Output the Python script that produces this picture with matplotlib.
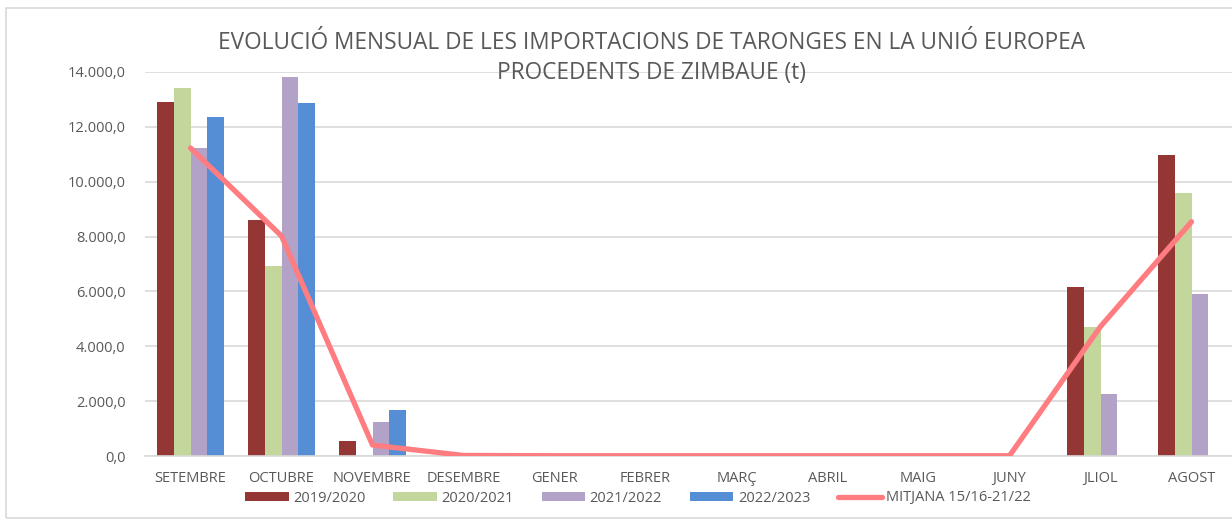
import matplotlib.pyplot as plt
import numpy as np
from matplotlib.patches import Rectangle
from matplotlib.ticker import FuncFormatter

# Dades (tones)
mesos = ['SETEMBRE', 'OCTUBRE', 'NOVEMBRE', 'DESEMBRE', 'GENER', 'FEBRER',
         'MARÇ', 'ABRIL', 'MAIG', 'JUNY', 'JLIOL', 'AGOST']
c2019 = [12900, 8600, 550, 0, 0, 0, 0, 0, 0, 0, 6170, 10960]
c2020 = [13400, 6920, 0, 0, 0, 0, 0, 0, 0, 0, 4720, 9580]
c2021 = [11220, 13800, 1250, 0, 0, 0, 0, 0, 0, 0, 2260, 5900]
c2022 = [12350, 12880, 1680, 0, 0, 0, 0, 0, 0, 0, 0, 0]
mitjana = [11230, 8020, 400, 20, 10, 10, 10, 10, 10, 10, 4720, 8540]

series = [('2019/2020', c2019, '#943634'),
          ('2020/2021', c2020, '#C3D69B'),
          ('2021/2022', c2021, '#B2A2C7'),
          ('2022/2023', c2022, '#558ED5')]

plt.rcParams['font.family'] = ['Open Sans', 'DejaVu Sans']
gris = '#595959'

fig = plt.figure(figsize=(12.32, 5.21), dpi=100)
ax = fig.add_axes([145/1232, 65/521, 1092/1232, 384/521])

# Marc del gràfic
fig.patches.append(Rectangle((6/1232, 3/521), 1.1, 1 - 11/521, transform=fig.transFigure,
                             fill=False, edgecolor='#D9D9D9', linewidth=1.2))

x = np.arange(len(mesos))
w = 0.183
handles = []
for i, (nom, vals, col) in enumerate(series):
    handles.append(ax.bar(x + (i - 1.5) * w, vals, width=w, color=col, label=nom, zorder=2))

linia, = ax.plot(x, mitjana, color='#FF7C80', linewidth=3.8, label='MITJANA 15/16-21/22',
                 zorder=3, solid_capstyle='round')
handles.append(linia)

ax.set_xlim(-0.5, 11.5)
ax.set_ylim(0, 14000)
ax.set_yticks(np.arange(0, 14001, 2000))
ax.yaxis.set_major_formatter(FuncFormatter(
    lambda v, p: f'{v:,.1f}'.replace(',', 'X').replace('.', ',').replace('X', '.')))
ax.set_xticks(x)
ax.set_xticklabels(mesos)
ax.tick_params(axis='both', length=0, colors=gris, labelsize=10.5)
ax.tick_params(axis='x', pad=11)
ax.tick_params(axis='y', pad=14)
ax.grid(axis='y', color='#D9D9D9', linewidth=1.2, zorder=0)
for s in ax.spines.values():
    s.set_visible(False)
ax.spines['bottom'].set_visible(True)
ax.spines['bottom'].set_color('#D9D9D9')
ax.spines['bottom'].set_linewidth(1.2)

fig.text(651/1232, 1 - 58/521,
         'EVOLUCIÓ MENSUAL DE LES IMPORTACIONS DE TARONGES EN LA UNIÓ EUROPEA\nPROCEDENTS DE ZIMBAUE (t)',
         ha='center', va='center', fontsize=16.3, color=gris, linespacing=1.32)

fig.legend(handles=handles, loc='center', bbox_to_anchor=(638/1232, 1 - 498/521), ncol=5,
           frameon=False, fontsize=10.5, handlelength=3.0, handleheight=0.6,
           columnspacing=1.9, handletextpad=0.3, labelcolor=gris)

fig.savefig('out.png', dpi=100)
